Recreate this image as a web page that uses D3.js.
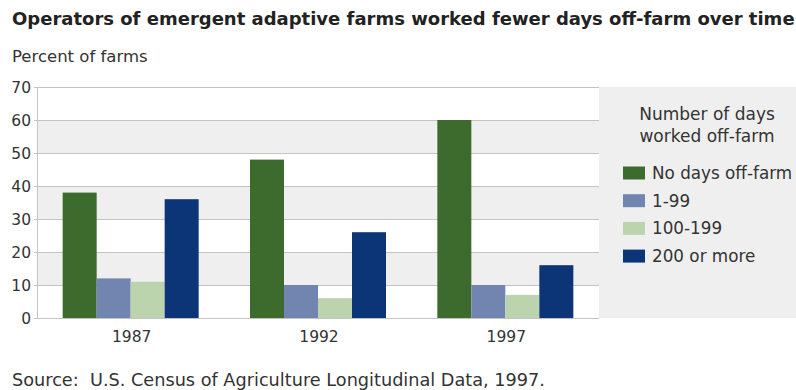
<!DOCTYPE html>
<html><head><meta charset="utf-8">
<script src="https://cdn.jsdelivr.net/npm/d3@7"></script>
<style>body{margin:0;background:#fff}svg{display:block}text{font-family:"DejaVu Sans",sans-serif;white-space:pre}</style>
</head><body>
<svg id="c" width="796" height="390"></svg>
<script>
const years = ["1987","1992","1997"];
const seriesNames = ["No days off-farm","1-99","100-199","200 or more"];
const noDays = [38,48,60];
const days1to99 = [12,10,10];
const days100to199 = [11,6,7];
const days200plus = [36,26,16];
const yTicks = [0,10,20,30,40,50,60,70];
const colors = ["#3d6b2e","#7285b1","#bcd4ae","#0b3576"];

const seriesValues = [noDays, days1to99, days100to199, days200plus];
const svg = d3.select("#c");
const L=37, R=599, T=87, B=318;

const y = d3.scaleLinear().domain([0,70]).range([B,T]);
const x0 = d3.scaleBand().domain(years).range([L,R]).padding(0);
const x1 = d3.scaleBand().domain(seriesNames).range([0,x0.bandwidth()]).paddingInner(0).paddingOuter(0.755);

for(let i=0;i<yTicks.length-1;i++){
  if(i%2===1){
    svg.append("rect").attr("x",L).attr("y",y(yTicks[i+1])).attr("width",R-L).attr("height",y(yTicks[i])-y(yTicks[i+1])).attr("fill","#efefef");
  }
}
svg.append("rect").attr("x",R).attr("y",T).attr("width",796-R).attr("height",B-T).attr("fill","#efefef");

svg.append("g").selectAll("line").data(yTicks).join("line")
  .attr("x1",L-3).attr("x2",R).attr("y1",d=>y(d)+0.5).attr("y2",d=>y(d)+0.5)
  .attr("stroke","#c4c4c4").attr("stroke-width",1);
svg.append("line").attr("x1",L+0.5).attr("x2",L+0.5).attr("y1",T).attr("y2",B).attr("stroke","#c4c4c4");

svg.append("g").selectAll("text").data(yTicks).join("text")
  .attr("x",31).attr("y",d=>y(d)).attr("dy","0.36em").attr("text-anchor","end")
  .attr("font-size",15.5).attr("fill","#333").text(d=>d);

years.forEach((yr,gi)=>{
  seriesNames.forEach((s,si)=>{
    const v = seriesValues[si][gi];
    svg.append("rect").attr("x",x0(yr)+x1(s)).attr("y",y(v)).attr("width",x1.bandwidth()).attr("height",y(0)-y(v))
      .attr("fill",colors[si]);
  });
});

svg.append("g").selectAll("text").data(years).join("text")
  .attr("x",d=>x0(d)+x0.bandwidth()/2+1).attr("y",342).attr("text-anchor","middle")
  .attr("font-size",15.5).attr("fill","#333").text(d=>d);

svg.append("text").attr("x",12).attr("y",25).attr("font-size",18).attr("font-weight","bold").attr("fill","#222")
  .text("Operators of emergent adaptive farms worked fewer days off-farm over time");
svg.append("text").attr("x",12).attr("y",62).attr("font-size",16.5).attr("fill","#333").text("Percent of farms");
svg.append("text").attr("x",12).attr("y",386).attr("font-size",17.7).attr("fill","#333").text("Source:  U.S. Census of Agriculture Longitudinal Data, 1997.");

svg.append("text").attr("x",707).attr("y",120).attr("text-anchor","middle").attr("font-size",17).attr("fill","#333").text("Number of days");
svg.append("text").attr("x",707).attr("y",142).attr("text-anchor","middle").attr("font-size",17).attr("fill","#333").text("worked off-farm");
const lg = svg.append("g").selectAll("g").data(seriesNames).join("g")
  .attr("transform",(d,i)=>`translate(623,${173+i*27.7})`);
lg.append("rect").attr("x",0).attr("y",-6.5).attr("width",22).attr("height",13).attr("fill",(d,i)=>colors[i]);
lg.append("text").attr("x",29).attr("y",0).attr("dy","0.36em").attr("font-size",16.8).attr("fill","#333").text(d=>d);
</script>
</body></html>
